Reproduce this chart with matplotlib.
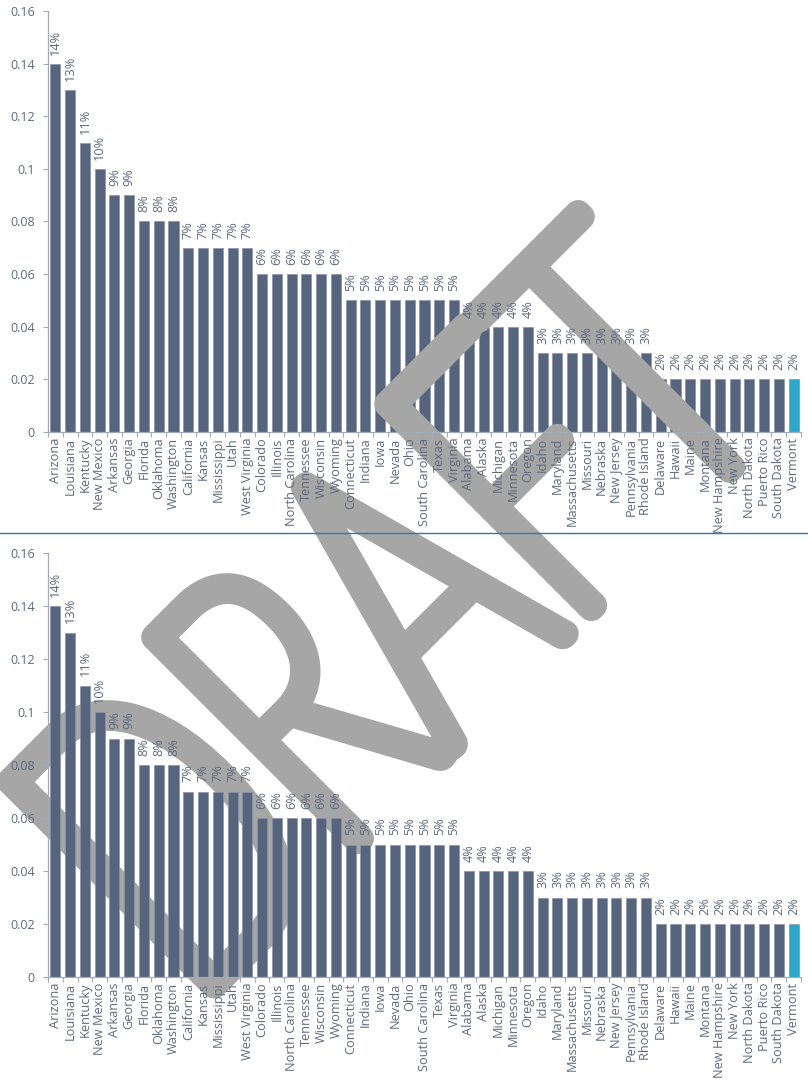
import matplotlib
matplotlib.use("Agg")
import matplotlib.pyplot as plt
import numpy as np
from matplotlib import patheffects
from matplotlib.font_manager import FontProperties
from matplotlib.lines import Line2D
from matplotlib.textpath import TextPath
from matplotlib.transforms import Affine2D

# -----------------------------------------------------------------------------
# Data
# -----------------------------------------------------------------------------

states = [
    "Arizona", "Louisiana", "Kentucky", "New Mexico", "Arkansas", "Georgia",
    "Florida", "Oklahoma", "Washington", "California", "Kansas",
    "Mississippi", "Utah", "West Virginia", "Colorado", "Illinois",
    "North Carolina", "Tennessee", "Wisconsin", "Wyoming", "Connecticut",
    "Indiana", "Iowa", "Nevada", "Ohio", "South Carolina", "Texas",
    "Virginia", "Alabama", "Alaska", "Michigan", "Minnesota", "Oregon",
    "Idaho", "Maryland", "Massachusetts", "Missouri", "Nebraska",
    "New Jersey", "Pennsylvania", "Rhode Island", "Delaware", "Hawaii",
    "Maine", "Montana", "New Hampshire", "New York", "North Dakota",
    "Puerto Rico", "South Dakota", "Vermont",
]
shares = [
    0.14, 0.13, 0.11, 0.10, 0.09, 0.09,
    0.08, 0.08, 0.08, 0.07, 0.07,
    0.07, 0.07, 0.07, 0.06, 0.06,
    0.06, 0.06, 0.06, 0.06, 0.05,
    0.05, 0.05, 0.05, 0.05, 0.05, 0.05,
    0.05, 0.04, 0.04, 0.04, 0.04, 0.04,
    0.03, 0.03, 0.03, 0.03, 0.03,
    0.03, 0.03, 0.03, 0.02, 0.02,
    0.02, 0.02, 0.02, 0.02, 0.02,
    0.02, 0.02, 0.02,
]
highlight_state = "Vermont"
y_ticks = [0, 0.02, 0.04, 0.06, 0.08, 0.10, 0.12, 0.14, 0.16]
watermark = "DRAFT"

# -----------------------------------------------------------------------------
# Styling
# -----------------------------------------------------------------------------

W_PX, H_PX, DPI = 808, 1082, 100

BAR_COLOUR = "#56657D"
HIGHLIGHT_COLOUR = "#2EA6C9"
TEXT_COLOUR = "#5D6A80"
AXIS_COLOUR = "#A3ABB7"
WATERMARK_COLOUR = "#A6A6A6"
RULE_COLOUR = "#2E75B6"

plt.rcParams["font.family"] = ["Open Sans", "DejaVu Sans"]
LABEL_SIZE = 9.2
TICK_SIZE = 9


class SqueezedStroke(patheffects.Stroke):
    """Stroke effect that compresses the glyph path along its baseline."""

    def __init__(self, xscale, **kwargs):
        super().__init__(**kwargs)
        self._squeeze = Affine2D().scale(xscale, 1.0)

    def draw_path(self, renderer, gc, tpath, affine, rgbFace):
        super().draw_path(renderer, gc, tpath, self._squeeze + affine, rgbFace)


def draw_panel(ax):
    x = np.arange(len(states))
    colours = [HIGHLIGHT_COLOUR if s == highlight_state else BAR_COLOUR
               for s in states]
    bars = ax.bar(x, shares, width=0.68, color=colours,
                  edgecolor="#8894A6", linewidth=0.5)
    for bar, value in zip(bars, shares):
        ax.annotate("{:.0f}%".format(value * 100),
                    xy=(bar.get_x() + bar.get_width() / 2, bar.get_height()),
                    xytext=(0, 6.5), textcoords="offset points",
                    rotation=90, ha="center", va="bottom",
                    fontsize=LABEL_SIZE, color=TEXT_COLOUR, zorder=3)

    ax.set_xlim(-0.5, len(states) - 0.5)
    ax.set_ylim(0, 0.16)
    ax.set_yticks(y_ticks)
    ax.set_yticklabels(["{:g}".format(v) for v in y_ticks])
    ax.set_xticks(x)
    ax.set_xticklabels(states, rotation=90)
    ax.set_xticks(np.arange(-0.5, len(states)), minor=True)
    ax.tick_params(axis="x", which="major", length=0, pad=4,
                   labelsize=LABEL_SIZE, labelcolor=TEXT_COLOUR)
    ax.tick_params(axis="x", which="minor", length=3.5, width=0.8,
                   color=AXIS_COLOUR)
    ax.tick_params(axis="y", length=3.5, width=0.8, color=AXIS_COLOUR,
                   pad=6, labelsize=TICK_SIZE, labelcolor=TEXT_COLOUR)
    for side in ("top", "right"):
        ax.spines[side].set_visible(False)
    for side in ("left", "bottom"):
        ax.spines[side].set_color(AXIS_COLOUR)
        ax.spines[side].set_linewidth(0.9)
    ax.set_axisbelow(False)


fig = plt.figure(figsize=(W_PX / DPI, H_PX / DPI), dpi=DPI)

left = 48 / W_PX
width = (801 - 48) / W_PX
ax_top = fig.add_axes([left, 1 - 432 / H_PX, width, (432 - 11) / H_PX])
ax_bottom = fig.add_axes([left, 1 - 977 / H_PX, width, (977 - 553) / H_PX])
ax_bottom.set_facecolor("none")

draw_panel(ax_top)
draw_panel(ax_bottom)

# Separator rule between the two copies
fig.add_artist(Line2D([0, 1], [1 - 533 / H_PX] * 2, transform=fig.transFigure,
                      color=RULE_COLOUR, linewidth=1.0))

# -----------------------------------------------------------------------------
# "DRAFT" watermark: over the top chart's bars, under the bottom chart's bars
# -----------------------------------------------------------------------------

wm_prop = FontProperties(family=["Lato", "DejaVu Sans"], weight="light")
probe = TextPath((0, 0), watermark, size=100, prop=wm_prop).get_extents()
stroke_px = 27
cap_px = 315 - stroke_px            # ink height across the letters
ink_len_px = 830 - stroke_px        # ink length along the baseline
em_px = 100 * cap_px / probe.height
xscale = ink_len_px / (probe.width * em_px / 100)
lsb_px = probe.x0 * em_px / 100 * xscale

angle = np.deg2rad(45)
ux, uy = np.cos(angle), -np.sin(angle)        # baseline direction, y down
corner_x, corner_y = 214, 985                 # lower-left ink corner of "D"
anchor_x = corner_x - lsb_px * ux
anchor_y = corner_y - lsb_px * uy

ax_top.text(anchor_x / W_PX, 1 - anchor_y / H_PX, watermark,
            transform=fig.transFigure, fontproperties=wm_prop,
            fontsize=em_px * 72 / DPI, rotation=45, rotation_mode="anchor",
            ha="left", va="baseline", color=WATERMARK_COLOUR,
            zorder=2, clip_on=False,
            path_effects=[SqueezedStroke(xscale,
                                         linewidth=stroke_px * 72 / DPI,
                                         foreground=WATERMARK_COLOUR,
                                         joinstyle="round",
                                         capstyle="round")])

fig.savefig("out.png", dpi=DPI)
